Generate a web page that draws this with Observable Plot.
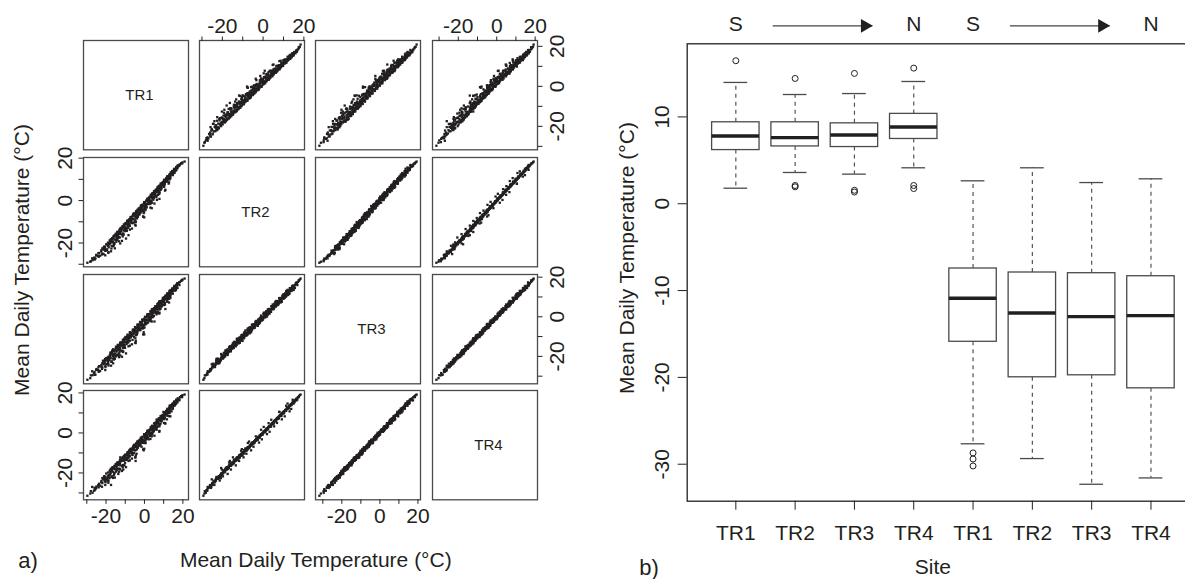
<!DOCTYPE html>
<html>
<head>
<meta charset="utf-8">
<script src="https://cdn.jsdelivr.net/npm/d3@7"></script>
<script src="https://cdn.jsdelivr.net/npm/@observablehq/plot@0.6"></script>
<style>
  html, body { margin: 0; padding: 0; background: #fff; overflow: hidden; }
  #fig { position: relative; width: 1185px; height: 579px; overflow: hidden;
         font-family: "Liberation Sans", Arial, sans-serif; color: #231f20; background: #fff; }
  .lab { position: absolute; white-space: nowrap; line-height: 1; font-size: 21px;
         transform: translate(-50%, -50%); }
  .lab.rot { transform: translate(-50%, -50%) rotate(-90deg); }
  .tag { position: absolute; white-space: nowrap; line-height: 1; font-size: 22px;
         transform: translate(0, -50%); }
</style>
</head>
<body>
<div id="fig"></div>
<script>
// ---- Daily mean temperature (°C) at the four sites, same days in each list ----
const sites = ["TR1", "TR2", "TR3", "TR4"];

const tr1 = [
  -29.7, -27.9, -26.3, -27.2, -24.1, -25.0, -21.9, -23.6, -18.7, -22.4,
  -20.8, -21.9, -17.2, -20.5, -20.9, -15.9, -19.2, -19.9, -17.8, -19.0,
  -14.6, -17.6, -18.1, -15.3, -17.0, -16.8, -12.9, -15.6, -16.1, -13.8,
  -15.2, -14.9, -11.2, -13.6, -14.0, -12.1, -13.1, -9.3, -12.0, -12.4,
  -10.2, -11.5, -7.6, -10.4, -10.7, -8.3, -9.6, -5.4, -8.5, -9.0,
  -6.7, -7.9, -3.9, -6.8, -7.1, -4.8, -6.1, -2.6, -5.0, -5.5,
  -3.1, -4.4, -0.8, -3.3, -3.6, -1.4, -2.6, 1.2, -1.5, -1.9,
  0.4, -0.9, 2.9, 0.2, -0.1, 2.1, 0.9, 4.6, 2.0, 1.6,
  3.8, 2.6, 5.7, 3.7, 3.3, 5.4, 4.3, 7.9, 5.4, 5.0,
  7.1, 6.0, 8.8, 7.1, 6.8, 8.7, 7.8, 9.9, 8.8, 8.4,
  10.3, 9.5, 11.6, 10.5, 10.2, 11.9, 11.3, 13.0, 12.2, 11.9,
  13.6, 13.0, 14.3, 13.8, 13.7, 15.2, 14.8, 16.0, 15.4, 15.6,
  16.9, 16.5, 17.7, 17.3, 18.5, 19.1, 19.8, 20.9, -26.0, -24.0,
  -19.6, -21.1, -18.6, -16.4, -17.5, -14.5, -15.6, -12.7, -14.1, -10.8,
  -12.8, -9.1, -11.3, -8.9, -9.9, -7.2, -8.6, -5.8, -7.2, -3.7,
  -5.9, -2.2, -4.3, -1.9, -3.0, 0.3, -1.6, 1.4, -0.2, 3.6,
  1.4, 2.4, 4.5, 3.5, 4.0, 6.3, 5.6, 6.6, 7.5, 7.4,
  9.1, 9.0, 10.8, 10.4, 12.4, 11.7, 12.9, 13.3, 15.1, 14.5,
  -27.0, -23.8, -22.1, -22.5, -19.4, -20.6, -17.0, -18.2, -15.8, -17.6,
  -14.9, -16.8, -13.2, -14.0, -11.6, -13.5, -12.9, -9.8, -11.7, -8.4,
  -10.9, -7.8, -8.6, -6.5, -8.2, -5.1, -6.9, -3.4, -5.5, -2.9,
  -4.1, -1.7, -2.8, 0.6, -1.2, 0.9, 0.4, 3.3, 1.5, 2.4,
  2.5, 4.9, 3.4, 5.1, 4.7, 7.6, 6.1, 7.0, 8.9, 8.0,
  8.9, 10.6, 9.8, 11.1, 12.9, 11.9, 13.4, 13.2, 14.8, 14.5,
  15.9, 15.6, 17.2, 17.0, 18.2, 19.6, -25.9, -25.1, -20.3, -21.6,
  -18.9, -15.6, -17.7, -17.6, -14.2, -16.3, -11.3, -14.8, -12.6, -13.9,
  -10.1, -12.5, -10.3, -11.2, -8.4, -9.9, -6.2, -8.8, -7.1, -7.5,
  -4.6, -6.0, -3.7, -4.9, -2.1, -3.6, -0.3, -2.3, -1.0, -1.2,
  1.9, 0.3, 2.6, 1.5, 4.2, 3.1, 6.3, 4.2, 5.5, 5.6,
  8.4, 6.9, 8.2, 8.3, 10.6, 9.6, 11.9, 10.8, 12.1, 12.3,
  -25.5, -21.3, -17.4, -20.5, -16.3, -12.6, -16.6, -14.1, -9.6, -14.0,
  -11.0, -12.6, -7.6, -9.4, -4.6, -7.9, -4.5, -7.6, -4.1, -0.7,
  -4.0, -0.2, -1.5, 3.8, -0.7, 3.0, 2.2, 6.5, 4.9, 3.8,
  7.7, 6.3, 10.9, 7.6, 10.2, 9.9, 12.8, 11.0, 13.5, 13.1,
  13.5, 15.7, 14.7, 16.6, 16.9, 18.1, -28.2, -23.1, -18.8, -20.3,
  -15.4, -19.0, -15.9, -13.2, -16.6, -13.6, -8.3, -13.0, -9.2, -10.4,
  -10.5, -4.8, -6.8, -4.7, -6.0, -0.1, -3.5, -0.4, -3.4, 0.0,
  3.1, 0.5, 4.0, 3.2, 7.8, 4.1, 7.1, 6.9, 10.7, 7.8,
  10.2, 9.2, 12.6, 11.7, 13.1, 12.8, 14.8, 14.1, 16.4, 16.4,
  -20.4, -18.6, -11.7, -10.9, -6.5, -6.3, -0.7, 0.5, 5.2, 6.2
];

const tr2 = [
  -29.3, -28.6, -27.4, -27.2, -26.1, -25.9, -25.0, -24.7, -24.3, -23.4,
  -23.2, -22.5, -22.6, -21.8, -21.7, -21.1, -20.8, -20.6, -20.1, -19.8,
  -19.4, -19.0, -18.8, -18.3, -18.2, -17.7, -17.4, -17.0, -16.8, -16.3,
  -16.2, -15.6, -15.5, -15.0, -14.7, -14.4, -14.1, -13.6, -13.5, -12.9,
  -12.6, -12.3, -11.9, -11.6, -11.2, -10.9, -10.5, -10.3, -9.8, -9.5,
  -9.1, -8.8, -8.4, -8.1, -7.7, -7.4, -7.1, -6.6, -6.4, -6.0,
  -5.6, -5.3, -4.9, -4.5, -4.3, -3.9, -3.5, -3.2, -2.8, -2.5,
  -2.1, -1.8, -1.3, -1.1, -0.7, -0.4, 0.0, 0.4, 0.7, 1.0,
  1.4, 1.7, 2.1, 2.4, 2.8, 3.1, 3.5, 3.8, 4.2, 4.5,
  4.9, 5.2, 5.6, 5.9, 6.3, 6.6, 7.0, 7.3, 7.7, 8.0,
  8.4, 8.7, 9.1, 9.4, 9.8, 10.1, 10.5, 10.8, 11.2, 11.5,
  11.9, 12.2, 12.6, 12.9, 13.3, 13.6, 14.0, 14.3, 14.7, 15.0,
  15.4, 15.8, 16.2, 16.6, 17.1, 17.6, 18.0, 18.4, -26.8, -24.8,
  -23.3, -21.9, -20.4, -19.2, -18.3, -17.1, -16.4, -15.5, -14.9, -14.1,
  -13.5, -12.7, -12.1, -11.5, -10.7, -9.9, -9.4, -8.6, -7.8, -7.3,
  -6.5, -5.9, -5.0, -4.4, -3.8, -3.0, -2.2, -1.7, -0.9, -0.1,
  0.5, 1.3, 1.9, 2.5, 3.3, 4.1, 4.6, 5.4, 6.2, 6.8,
  7.6, 8.2, 8.8, 9.7, 10.3, 10.9, 11.8, 12.4, 13.0, 13.9,
  -28.1, -26.5, -25.4, -24.0, -23.0, -22.2, -21.4, -20.7, -19.9, -19.3,
  -18.6, -18.0, -17.3, -16.6, -16.0, -15.3, -14.6, -13.9, -13.3, -12.8,
  -12.2, -11.7, -11.0, -10.4, -9.7, -9.0, -8.4, -7.7, -7.0, -6.3,
  -5.8, -5.1, -4.4, -3.8, -3.1, -2.4, -1.8, -1.1, -0.4, 0.2,
  0.9, 1.6, 2.2, 2.9, 3.6, 4.3, 4.9, 5.6, 6.2, 6.9,
  7.5, 8.2, 8.8, 9.5, 10.1, 10.8, 11.4, 12.1, 12.7, 13.4,
  14.0, 14.7, 15.3, 16.0, 16.8, 17.5, -27.8, -25.6, -23.7, -22.9,
  -21.0, -20.3, -19.6, -18.9, -17.9, -17.5, -16.9, -16.0, -15.8, -15.1,
  -14.4, -13.8, -13.0, -12.4, -11.8, -11.1, -10.6, -9.9, -9.2, -8.7,
  -8.0, -7.3, -6.8, -6.1, -5.5, -4.8, -4.2, -3.5, -2.9, -2.3,
  -1.6, -0.9, -0.3, 0.4, 1.1, 1.8, 2.4, 3.0, 3.7, 4.4,
  5.0, 5.7, 6.4, 7.0, 7.7, 8.4, 9.0, 9.7, 10.3, 11.0,
  -27.3, -25.2, -23.9, -22.9, -21.5, -20.2, -19.7, -18.5, -17.9, -16.7,
  -15.8, -14.8, -13.7, -12.9, -11.8, -10.8, -10.1, -9.3, -8.2, -7.5,
  -6.6, -5.5, -4.7, -3.6, -2.6, -1.6, -0.6, 0.3, 1.2, 2.3,
  3.2, 4.0, 5.1, 6.0, 6.8, 7.9, 8.6, 9.6, 10.6, 11.3,
  12.3, 13.1, 13.8, 14.5, 15.6, 16.4, -28.8, -26.0, -24.6, -23.6,
  -22.5, -21.3, -20.6, -19.2, -18.2, -17.4, -16.3, -15.4, -14.3, -13.4,
  -12.5, -11.4, -10.4, -9.6, -8.7, -7.9, -6.9, -5.9, -5.2, -4.0,
  -3.3, -2.0, -1.0, 0.0, 0.8, 1.9, 2.7, 3.9, 4.7, 5.4,
  6.5, 7.3, 8.0, 9.2, 10.0, 11.2, 12.0, 13.0, 14.2, 15.0,
  -25.8, -22.0, -19.0, -16.1, -13.2, -10.6, -7.6, -4.5, -1.4, 1.6
];

const tr3 = [
  -31.8, -29.6, -28.4, -27.5, -26.9, -26.4, -25.6, -24.9, -24.6, -24.3,
  -23.3, -23.4, -22.8, -22.1, -22.2, -21.6, -21.4, -20.9, -20.4, -20.3,
  -19.9, -19.2, -19.5, -18.6, -18.7, -17.9, -17.6, -17.4, -17.3, -16.6,
  -16.7, -15.9, -15.8, -15.3, -15.2, -14.6, -14.5, -13.8, -13.6, -13.5,
  -12.7, -12.9, -12.1, -11.8, -11.7, -11.0, -10.9, -10.3, -10.2, -9.9,
  -9.2, -9.3, -8.6, -8.4, -8.2, -7.5, -7.4, -6.8, -6.7, -6.4,
  -5.7, -5.8, -5.0, -4.9, -4.6, -4.0, -3.9, -3.3, -3.2, -2.9,
  -2.2, -2.2, -1.5, -1.5, -1.0, -0.5, -0.3, 0.2, 0.4, 0.8,
  1.3, 1.4, 2.0, 2.2, 2.6, 3.1, 3.2, 3.7, 4.0, 4.4,
  4.9, 5.0, 5.5, 5.8, 6.2, 6.7, 6.9, 7.2, 7.7, 7.9,
  8.5, 8.6, 9.0, 9.4, 9.8, 10.2, 10.4, 10.8, 11.2, 11.6,
  12.0, 12.3, 12.7, 13.1, 13.5, 13.8, 14.2, 14.6, 15.0, 15.3,
  15.8, 16.1, 16.6, 17.0, 17.6, 18.2, 18.8, 19.3, -27.9, -25.6,
  -23.9, -22.6, -20.6, -19.8, -18.3, -17.6, -16.9, -15.7, -15.4, -14.3,
  -14.0, -13.1, -12.5, -11.5, -11.2, -10.1, -9.8, -8.8, -8.3, -7.3,
  -6.9, -5.9, -5.6, -4.5, -4.1, -3.1, -2.7, -1.7, -1.2, -0.3,
  0.3, 1.1, 1.8, 2.5, 3.3, 3.9, 4.6, 5.3, 6.0, 6.8,
  7.4, 8.1, 8.9, 9.6, 10.3, 11.1, 11.8, 12.5, 13.3, 14.0,
  -29.5, -27.8, -26.3, -25.2, -22.1, -23.6, -22.5, -21.9, -20.8, -18.4,
  -19.9, -17.1, -18.5, -15.4, -17.2, -14.6, -15.9, -12.7, -14.4, -11.9,
  -13.4, -10.6, -12.1, -9.3, -10.9, -8.0, -9.5, -6.6, -8.1, -5.4,
  -7.0, -4.1, -5.6, -2.9, -4.3, -1.5, -3.0, -0.1, -1.6, 1.3,
  -0.3, 2.8, 1.1, 3.9, 2.5, 5.3, 3.8, 6.7, 5.1, 7.9,
  6.4, 9.3, 7.8, 10.5, 9.1, 11.8, 10.5, 13.1, 11.7, 14.3,
  13.2, 15.6, 14.6, 16.9, 16.0, 18.4, -29.3, -26.9, -24.8, -22.2,
  -22.3, -19.6, -20.8, -18.0, -19.1, -16.4, -17.8, -15.1, -16.9, -14.2,
  -15.7, -12.9, -14.2, -11.6, -13.0, -10.2, -11.7, -9.0, -10.4, -7.8,
  -9.3, -6.5, -8.0, -5.2, -6.7, -3.9, -5.4, -2.6, -4.1, -1.4,
  -2.9, 0.0, -1.5, 1.3, -0.2, 2.7, 1.2, 3.9, 2.5, 5.3,
  4.1, 6.4, 5.5, 7.6, 6.9, 9.5, 8.1, 10.2, 9.6, 11.7,
  -29.2, -24.0, -24.7, -21.3, -23.5, -19.5, -21.1, -17.0, -18.5, -15.6,
  -17.5, -13.4, -14.6, -11.2, -13.3, -10.2, -12.2, -8.0, -9.2, -5.9,
  -8.4, -4.0, -5.8, -2.4, -4.6, -0.7, -1.9, 2.0, 0.5, 3.7,
  1.6, 5.3, 3.9, 7.6, 5.9, 9.4, 7.2, 10.7, 9.6, 13.0,
  11.0, 14.5, 13.0, 15.7, 14.5, 17.4, -31.0, -27.4, -23.7, -25.4,
  -21.2, -22.9, -18.8, -20.4, -17.2, -19.3, -14.9, -16.2, -12.7, -14.9,
  -11.0, -13.1, -9.2, -10.9, -6.9, -8.9, -5.5, -7.8, -4.1, -5.4,
  -2.1, -3.6, 0.6, -1.2, 2.1, 0.1, 3.7, 2.5, 6.2, 4.3,
  8.0, 6.0, 9.2, 7.6, 11.4, 10.2, 13.6, 11.8, 15.3, 13.5,
  -26.9, -21.2, -20.2, -15.2, -13.9, -9.5, -8.9, -3.9, -2.4, 2.5
];

const tr4 = [
  -31.4, -29.1, -28.9, -27.0, -26.2, -26.8, -25.1, -25.4, -23.9, -24.0,
  -23.8, -22.6, -22.1, -22.7, -21.6, -21.0, -21.8, -20.3, -20.9, -19.8,
  -19.2, -19.7, -18.9, -18.1, -18.5, -17.3, -18.0, -16.8, -17.5, -16.0,
  -16.4, -15.5, -16.1, -14.8, -15.0, -14.1, -14.6, -13.4, -13.9, -13.2,
  -12.3, -12.8, -11.7, -12.2, -11.4, -10.6, -11.1, -10.0, -9.7, -10.3,
  -8.9, -9.0, -8.2, -8.7, -7.9, -7.1, -7.6, -6.4, -6.5, -6.0,
  -5.3, -5.5, -4.7, -5.1, -4.3, -3.6, -3.8, -3.0, -2.9, -2.4,
  -1.9, -2.0, -1.2, -1.3, -0.6, -0.2, -0.1, 0.5, 0.6, 1.2,
  1.6, 1.5, 2.3, 2.5, 3.0, 3.4, 3.4, 4.1, 4.3, 4.8,
  5.2, 5.3, 5.9, 6.2, 6.6, 7.0, 7.3, 7.7, 8.1, 8.4,
  8.9, 9.0, 9.5, 9.8, 10.3, 10.6, 10.9, 11.3, 11.6, 12.1,
  12.4, 12.7, 13.2, 13.5, 13.9, 14.3, 14.6, 15.1, 15.4, 15.8,
  16.2, 16.5, 17.0, 17.3, 17.9, 18.4, 18.9, 19.2, -27.4, -26.0,
  -23.3, -22.0, -21.1, -19.4, -17.9, -17.0, -16.5, -15.2, -15.6, -13.9,
  -13.7, -12.6, -12.2, -11.1, -10.9, -9.8, -9.5, -8.4, -8.1, -7.0,
  -6.8, -5.6, -5.2, -4.2, -3.9, -2.8, -2.5, -1.4, -0.9, 0.0,
  0.6, 1.4, 2.1, 2.8, 3.6, 4.2, 5.0, 5.7, 6.4, 7.2,
  7.9, 8.6, 9.3, 10.0, 10.8, 11.4, 12.3, 12.9, 13.6, 14.4,
  -29.9, -27.2, -26.9, -24.6, -22.8, -23.0, -21.9, -22.6, -20.2, -18.9,
  -19.3, -17.8, -17.9, -16.1, -16.5, -15.3, -15.2, -13.4, -13.7, -12.6,
  -12.8, -11.2, -11.4, -10.0, -10.2, -8.7, -8.9, -7.3, -7.4, -6.1,
  -6.3, -4.8, -4.9, -3.6, -3.6, -2.2, -2.3, -0.8, -0.9, 0.6,
  0.4, 2.1, 1.9, 3.2, 3.3, 4.6, 4.6, 6.0, 5.9, 7.3,
  7.2, 8.6, 8.6, 9.8, 9.9, 11.1, 11.3, 12.4, 12.5, 13.7,
  14.0, 15.0, 15.3, 16.4, 16.7, 17.9, -28.6, -27.5, -24.1, -22.8,
  -21.7, -20.2, -20.1, -18.6, -18.4, -17.1, -17.2, -15.7, -16.2, -14.8,
  -15.0, -13.5, -13.6, -12.3, -12.3, -10.9, -11.0, -9.7, -9.8, -8.4,
  -8.6, -7.2, -7.3, -5.9, -6.0, -4.6, -4.7, -3.3, -3.4, -2.0,
  -2.2, -0.7, -0.8, 0.6, 0.5, 2.0, 1.9, 3.2, 3.2, 4.6,
  4.7, 6.1, 6.2, 7.5, 7.4, 8.9, 8.6, 10.1, 9.9, 11.5,
  -28.1, -23.2, -26.0, -22.0, -22.5, -18.3, -21.7, -17.9, -17.1, -14.8,
  -18.3, -12.2, -13.7, -12.3, -14.0, -8.9, -11.2, -8.6, -10.4, -5.0,
  -7.1, -4.9, -6.9, -1.7, -3.4, -1.5, -3.2, 3.0, 1.1, 2.5,
  0.6, 6.6, 4.7, 6.4, 5.0, 10.5, 8.4, 10.0, 8.3, 13.6,
  12.2, 13.7, 12.0, 16.6, 15.8, 16.3, -30.3, -26.4, -24.9, -24.6,
  -22.3, -23.8, -17.5, -19.4, -18.0, -20.5, -14.0, -15.1, -13.4, -16.2,
  -12.2, -12.2, -8.1, -12.2, -7.7, -7.9, -4.3, -8.7, -5.1, -4.1,
  -3.0, -4.8, 1.6, 0.1, 1.0, -0.6, 4.9, 3.3, 4.9, 3.3,
  6.9, 7.0, 10.5, 6.8, 10.2, 11.1, 14.7, 10.8, 14.6, 14.7,
  -26.0, -22.2, -19.0, -16.0, -12.8, -10.8, -8.2, -5.1, -1.4, 1.6
];

// ---- Box-plot summaries by site: first group of four, then second group of four ----
const boxSites = ["TR1", "TR2", "TR3", "TR4", "TR1", "TR2", "TR3", "TR4"];
const boxLower  = [1.79, 3.60, 3.41, 4.14, -27.65, -29.35, -32.31, -31.58];
const boxQ1     = [6.18, 6.60, 6.53, 7.46, -15.90, -19.99, -19.76, -21.26];
const boxMedian = [7.80, 7.61, 7.92, 8.84, -10.89, -12.59, -13.00, -12.89];
const boxQ3     = [9.38, 9.38, 9.26, 10.35, -7.46, -7.92, -8.00, -8.35];
const boxUpper  = [13.97, 12.58, 12.69, 14.08, 2.64, 4.14, 2.44, 2.87];
// outliers: box number (1-8) and value
const outlierBox   = [1, 2, 2, 2, 3, 3, 3, 4, 4, 4, 5, 5, 5];
const outlierValue = [16.47, 14.43, 2.10, 1.95, 15.01, 1.55, 1.35, 15.62, 2.10, 1.75, -28.7, -29.4, -30.2];

// direction labels above the box plot (south to north), anchored on box numbers
const dirText = ["S", "N", "S", "N"];
const dirBox  = [1, 4, 5, 8];

const yTicksRight = [-30, -20, -10, 0, 10];
const pairTicks = [-30, -20, -10, 0, 10, 20];
const pairTickLabels = [-20, 0, 20];

// ---- shared styling ----
const FONT = '"Liberation Sans", Arial, sans-serif';
const ink = "#231f20";
const edge = "#4a4a4a";
const fig = document.getElementById("fig");

function place(svg, left, top) {
  svg.style.position = "absolute";
  svg.style.left = left + "px";
  svg.style.top = top + "px";
  fig.appendChild(svg);
}
function label(text, x, y, cls) {
  const d = document.createElement("div");
  d.className = cls;
  d.textContent = text;
  d.style.left = x + "px";
  d.style.top = y + "px";
  fig.appendChild(d);
}
const padded = (values) => {
  const [lo, hi] = d3.extent(values);
  const e = (hi - lo) * 0.04;
  return [lo - e, hi + e];
};

// ---- a) scatterplot matrix ----
const series = [tr1, tr2, tr3, tr4];
const days = tr1.map((_, k) => ({TR1: tr1[k], TR2: tr2[k], TR3: tr3[k], TR4: tr4[k]}));
const cellW = 105, cellH = 109.3, stepX = 116.33, stepY = 116.7, gridLeft = 82.7, gridTop = 40.3, M = 44;

for (let i = 0; i < 4; ++i) {
  for (let j = 0; j < 4; ++j) {
    const marks = [];
    if (i === j) {
      marks.push(Plot.text([sites[i]], {text: d => d, frameAnchor: "middle", dx: 3.5, fontSize: 15, fill: ink}));
    } else {
      marks.push(Plot.dot(days, {x: sites[j], y: sites[i], symbol: "square", r: 1.3, fill: ink, stroke: null}));
    }
    marks.push(Plot.frame({stroke: edge, strokeWidth: 1.3}));
    const fmt = d => (pairTickLabels.includes(d) ? String(d) : "");
    if (i === 0 && j % 2 === 1) {
      marks.push(Plot.axisX({anchor: "top", ticks: pairTicks, tickSize: 4.5, tickPadding: 3, tickFormat: fmt, fontSize: 21, label: null}));
    }
    if (i === 3 && j % 2 === 0) {
      marks.push(Plot.axisX({anchor: "bottom", ticks: pairTicks, tickSize: 4.5, tickPadding: 4, tickFormat: fmt, fontSize: 21, label: null}));
    }
    if (j === 0 && i % 2 === 1) {
      marks.push(Plot.axisY({anchor: "left", ticks: pairTicks, tickSize: 4.5, tickFormat: () => "", label: null}));
      marks.push(Plot.text(pairTickLabels, {y: d => d, text: d => String(d), frameAnchor: "left", dx: -18, rotate: -90,
        textAnchor: "middle", lineAnchor: "middle", fontSize: 21, fill: ink}));
    }
    if (j === 3 && i % 2 === 0) {
      marks.push(Plot.axisY({anchor: "right", ticks: pairTicks, tickSize: 4.5, tickFormat: () => "", label: null}));
      marks.push(Plot.text(pairTickLabels, {y: d => d, text: d => String(d), frameAnchor: "right", dx: 20, rotate: -90,
        textAnchor: "middle", lineAnchor: "middle", fontSize: 21, fill: ink}));
    }
    const svg = Plot.plot({
      width: cellW + 2 * M, height: cellH + 2 * M,
      marginTop: M, marginRight: M, marginBottom: M, marginLeft: M,
      x: {domain: padded(series[j]), axis: null},
      y: {domain: padded(series[i]), axis: null},
      style: {background: "transparent", overflow: "visible", fontFamily: FONT, color: ink, maxWidth: "none"},
      marks
    });
    place(svg, gridLeft + j * stepX - M, gridTop + i * stepY - M);
  }
}

label("Mean Daily Temperature (°C)", 21, 260, "lab rot");
label("Mean Daily Temperature (°C)", 315.8, 558.5, "lab");
label("a)", 18.3, 561, "tag");

// ---- b) box plots ----
const boxes = boxSites.map((s, k) => ({
  pos: k + 1, site: s, lo: boxLower[k], q1: boxQ1[k], med: boxMedian[k], q3: boxQ3[k], hi: boxUpper[k]
}));
const outliers = outlierBox.map((b, k) => ({pos: b, value: outlierValue[k]}));
const nBox = boxes.length;
const yDomain = padded([...boxLower, ...boxUpper, ...outlierValue]);
const xDomain = [0.5 - 0.04 * nBox, nBox + 0.5 + 0.04 * nBox];
const arrows = [0, 2].map(k => ({from: dirBox[k] + 0.63, to: dirBox[k + 1] - 0.69}));
const dirs = dirText.map((t, k) => ({text: t, pos: dirBox[k]}));
const topY = () => yDomain[1];

const boxSvg = Plot.plot({
  width: 620, height: 579,
  marginLeft: 86.7, marginRight: 20.9, marginTop: 43.3, marginBottom: 78.3,
  x: {type: "linear", domain: xDomain, axis: null},
  y: {domain: yDomain, axis: null},
  style: {background: "transparent", overflow: "visible", fontFamily: FONT, color: ink, maxWidth: "none"},
  marks: [
    // whiskers
    Plot.ruleX(boxes, {x: "pos", y1: "q3", y2: "hi", stroke: "#555", strokeWidth: 1.2, strokeDasharray: "4,4"}),
    Plot.ruleX(boxes, {x: "pos", y1: "q1", y2: "lo", stroke: "#555", strokeWidth: 1.2, strokeDasharray: "4,4"}),
    Plot.ruleY(boxes, {y: "hi", x1: d => d.pos - 0.2, x2: d => d.pos + 0.2, stroke: edge, strokeWidth: 1.3}),
    Plot.ruleY(boxes, {y: "lo", x1: d => d.pos - 0.2, x2: d => d.pos + 0.2, stroke: edge, strokeWidth: 1.3}),
    // boxes and medians
    Plot.rect(boxes, {x1: d => d.pos - 0.4, x2: d => d.pos + 0.4, y1: "q1", y2: "q3", fill: "white", stroke: edge, strokeWidth: 1.3}),
    Plot.ruleY(boxes, {y: "med", x1: d => d.pos - 0.4, x2: d => d.pos + 0.4, stroke: ink, strokeWidth: 3.4}),
    // outliers
    Plot.dot(outliers, {x: "pos", y: "value", r: 3, stroke: ink, strokeWidth: 1, fill: "none"}),
    Plot.frame({stroke: ink, strokeWidth: 1.3}),
    // axes
    Plot.axisX({anchor: "bottom", ticks: boxes.map(d => d.pos), tickSize: 9, tickPadding: 15,
      tickFormat: p => boxSites[p - 1], fontSize: 21, label: null}),
    Plot.axisY({anchor: "left", ticks: yTicksRight, tickSize: 9, tickFormat: () => "", label: null}),
    Plot.text(yTicksRight, {y: d => d, text: d => String(d), frameAnchor: "left", dx: -24.5, rotate: -90,
      textAnchor: "middle", lineAnchor: "middle", fontSize: 21, fill: ink}),
    // south-to-north direction arrows above the frame
    Plot.text(dirs, {x: "pos", text: "text", frameAnchor: "top", dy: -19.7, lineAnchor: "middle", fontSize: 21, fill: ink}),
    Plot.ruleY(arrows, {y: topY, x1: "from", x2: "to", dy: -18, stroke: "#444", strokeWidth: 1.3}),
    Plot.dot(arrows, {x: "to", y: topY, dy: -18, dx: -7.9, symbol: "triangle", rotate: 90, r: 5.1, fill: ink, stroke: null})
  ]
});
place(boxSvg, 600, 0);

label("Mean Daily Temperature (°C)", 626, 258, "lab rot");
label("Site", 932.8, 565.5, "lab");
label("b)", 639.3, 568, "tag");
</script>
</body>
</html>
